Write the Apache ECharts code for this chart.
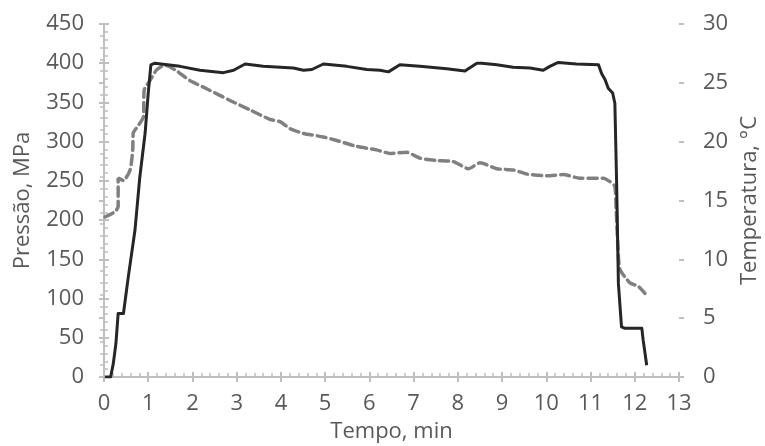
<!DOCTYPE html>
<html>
<head>
<meta charset="utf-8">
<script src="https://cdn.jsdelivr.net/npm/echarts@6/dist/echarts.min.js"></script>
<style>
html,body{margin:0;padding:0;background:#fff;}
#chart{width:765px;height:446px;}
</style>
</head>
<body>
<div id="chart"></div>
<script>
//pressão (MPa) ao longo do tempo
var pressTime = [0.02,0.15,0.21,0.27,0.32,0.44,0.55,0.70,0.81,0.93,1.00,1.06,1.15,1.72,2.17,2.70,2.93,3.19,3.60,4.28,4.51,4.70,4.96,5.49,5.94,6.24,6.43,6.69,7.14,7.75,8.16,8.43,8.54,8.88,9.25,9.63,9.93,10.08,10.27,10.68,11.18,11.25,11.33,11.40,11.50,11.55,11.59,11.63,11.70,11.78,12.16,12.19,12.27];
var pressVal  = [0,0,17,43,81,81,128,187,255,311,362,398,400,396,391,388,391,399,396,394,391,392,399,396,392,391,389,398,396,393,390,400,400,398,395,394,391,396,401,399,398,387,379,368,362,349,247,119,64,62,62,47,15];

//temperatura (°C)
var tempTime = [0.02,0.25,0.32,0.32,0.44,0.59,0.65,0.66,0.78,0.89,0.91,1.04,1.19,1.38,1.61,1.94,2.32,2.85,3.30,3.75,3.98,4.21,4.51,4.96,5.26,5.71,6.16,6.47,6.84,7.14,7.52,7.90,8.24,8.50,8.88,9.25,9.56,10.01,10.38,10.76,11.29,11.44,11.55,11.58,11.63,11.67,11.89,12.08,12.23];
var tempVal  = [13.6,14.05,14.5,16.9,16.7,17.6,19.3,20.7,21.4,22.1,24.4,25.2,26.1,26.5,26.1,25.2,24.5,23.5,22.7,21.9,21.7,21.1,20.7,20.4,20.1,19.6,19.3,19.0,19.1,18.6,18.4,18.3,17.7,18.2,17.7,17.6,17.25,17.1,17.2,16.9,16.9,16.6,16.2,14.2,10.2,9.1,8.0,7.7,7.1];

function pairs(xs, ys){
    var out = [];
    for (var i = 0; i < xs.length; i++) out.push([xs[i], ys[i]]);
    return out;
}

var FONT = '"Open Sans", "DejaVu Sans", sans-serif';
var TXT = '#595959';
var AX = '#bfbfbf';

var chart = echarts.init(document.getElementById('chart'), null, {renderer:'canvas'});

var option = {
    animation:false,
    grid:{left:104, right:86, top:24, bottom:69, containLabel:false, outerBoundsMode:'none'},
    xAxis:[
        {
            type:'value', min:0, max:13, interval:1,
            name:'Tempo, min', nameLocation:'middle', nameGap:44,
            nameTextStyle:{color:TXT, fontSize:22, fontFamily:FONT},
            axisLine:{lineStyle:{color:AX, width:2}},
            axisTick:{inside:true, length:5, lineStyle:{color:AX, width:2}},
            minorTick:{show:true, splitNumber:5, length:4, lineStyle:{color:AX, width:1.5}},
            axisLabel:{color:TXT, fontSize:22, fontFamily:FONT, margin:16},
            splitLine:{show:false}
        },
        {
            type:'value', min:0, max:13, interval:1, position:'bottom',
            axisLine:{show:false},
            axisTick:{inside:false, length:5, lineStyle:{color:AX, width:2}},
            axisLabel:{show:false}, splitLine:{show:false}
        }
    ],
    yAxis:[
        {
            type:'value', min:0, max:450, interval:50, position:'left',
            name:'Pressão, MPa', nameLocation:'middle', nameGap:70, nameRotate:90,
            nameTextStyle:{color:TXT, fontSize:22, fontFamily:FONT},
            axisLine:{show:true, lineStyle:{color:AX, width:2}},
            axisTick:{show:true, inside:true, length:5, lineStyle:{color:AX, width:2}},
            minorTick:{show:true, splitNumber:5, length:4, lineStyle:{color:AX, width:1.5}},
            axisLabel:{color:TXT, fontSize:22, fontFamily:FONT, margin:20},
            splitLine:{show:false}
        },
        {
            type:'value', min:0, max:30, interval:5, position:'right',
            name:'Temperatura, °C', nameLocation:'middle', nameGap:60, nameRotate:90,
            nameTextStyle:{color:TXT, fontSize:22, fontFamily:FONT},
            axisLine:{show:true, lineStyle:{color:AX, width:2}},
            axisTick:{show:true, inside:true, length:5, lineStyle:{color:AX, width:2}},
            minorTick:{show:true, splitNumber:5, length:4, lineStyle:{color:AX, width:1.5}},
            axisLabel:{color:TXT, fontSize:22, fontFamily:FONT, margin:24},
            splitLine:{show:false}
        },
        {
            type:'value', min:0, max:450, interval:50, position:'left',
            axisLine:{show:false},
            axisTick:{show:true, inside:false, length:5, lineStyle:{color:AX, width:2}},
            axisLabel:{show:false}, splitLine:{show:false}
        },
        {
            type:'value', min:0, max:30, interval:5, position:'right',
            axisLine:{show:false},
            axisTick:{show:true, inside:false, length:5, lineStyle:{color:AX, width:2}},
            axisLabel:{show:false}, splitLine:{show:false}
        }
    ],
    series:[
        {
            name:'Temperatura', type:'line', xAxisIndex:0, yAxisIndex:1,
            data:pairs(tempTime, tempVal), showSymbol:false, smooth:0.2,
            lineStyle:{color:'#808080', width:3.5, type:[9,5], cap:'round'}
        },
        {
            name:'Pressão', type:'line', xAxisIndex:0, yAxisIndex:0,
            data:pairs(pressTime, pressVal), showSymbol:false,
            lineStyle:{color:'#262626', width:3, join:'round'}
        }
    ]
};
chart.setOption(option);
</script>
</body>
</html>
